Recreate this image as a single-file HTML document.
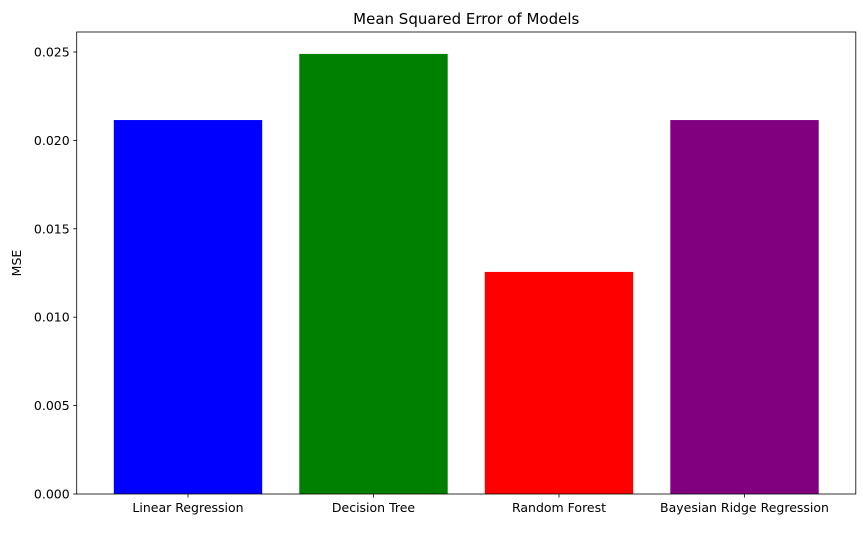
<!DOCTYPE html>
<html><head><meta charset="utf-8"><style>
body{margin:0;background:#fff;font-family:"Liberation Sans","DejaVu Sans",sans-serif;}
svg text{font-family:"DejaVu Sans","Liberation Sans",sans-serif;fill:#000;}
</style></head><body>
<svg id="chart" width="863" height="528"></svg>
<script>
const categories=["Linear Regression","Decision Tree","Random Forest","Bayesian Ridge Regression"];
const mseValues=[0.02115,0.02489,0.01256,0.02115];
const barColors=["#0000ff","#008000","#ff0000","#800080"];
const yTicks=[0,0.005,0.010,0.015,0.020,0.025];
const yTickLabels=["0.000","0.005","0.010","0.015","0.020","0.025"];
const NS="http://www.w3.org/2000/svg";
const svg=document.getElementById('chart');
const L=76.7,R=855.8,T=32,B=494,yMax=0.02613;
const xs=i=>L+(i+0.6)/4.2*(R-L);
const ys=v=>B-v/yMax*(B-T);
const bw=0.8/4.2*(R-L);
function el(t,a){const e=document.createElementNS(NS,t);for(const k in a)e.setAttribute(k,a[k]);svg.appendChild(e);return e;}
categories.forEach((c,i)=>{
 const r=el('rect',{x:xs(i)-bw/2,y:ys(mseValues[i]),width:bw,height:B-ys(mseValues[i]),fill:barColors[i]});
 
 
 const tk=el('line',{x1:xs(i),x2:xs(i),y1:B,y2:B+3.5,stroke:'#000','stroke-width':0.8});
 
 
 const t=el('text',{x:xs(i),y:B+18,'text-anchor':'middle','font-size':12.5});
 t.textContent=c;
 
 
});
yTicks.forEach((v,i)=>{
 const tk=el('line',{x1:L-3.5,x2:L,y1:ys(v),y2:ys(v),stroke:'#000','stroke-width':0.8});
 
 
 const t=el('text',{x:L-7,y:ys(v)+4.5,'text-anchor':'end','font-size':12.5});
 t.textContent=yTickLabels[i];
 
 
});
const fr=el('rect',{x:L,y:T,width:R-L,height:B-T,fill:'none',stroke:'#000','stroke-width':0.8});


const ti=el('text',{x:(L+R)/2,y:T-8,'text-anchor':'middle','font-size':15});
ti.textContent='Mean Squared Error of Models';


const yl=el('text',{x:0,y:0,'text-anchor':'middle','font-size':12.5,transform:`translate(21,${(T+B)/2}) rotate(-90)`});
yl.textContent='MSE';


</script>
</body></html>
